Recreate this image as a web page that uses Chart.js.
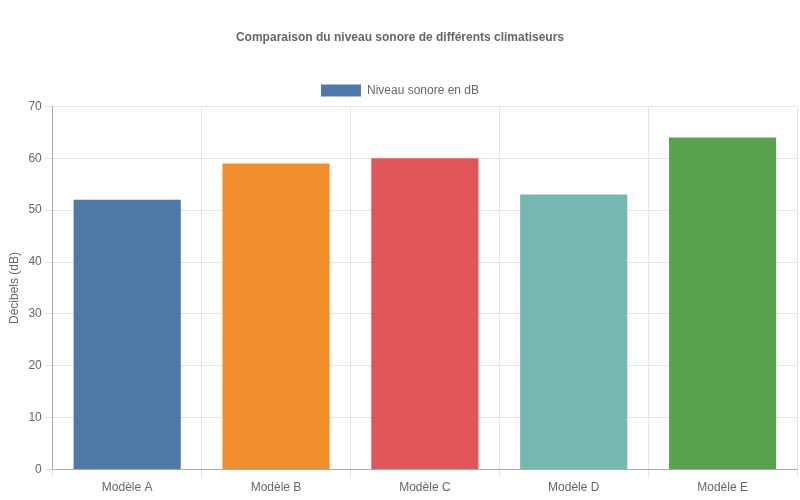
<!DOCTYPE html>
<html lang="fr">
<head>
    <meta charset="UTF-8">
    <title>Niveau sonore des climatiseurs</title>
    <style>
        body { margin: 0; background: #fff; }
        #graphique { width: 800px; height: 500px; }
    </style>
</head>
<body>
    <div id="graphique"><canvas id="chartSonore"></canvas></div>

    <script src="https://cdn.jsdelivr.net/npm/chart.js"></script>
    <script>
        // Données
        const modeles = ['Modèle A', 'Modèle B', 'Modèle C', 'Modèle D', 'Modèle E'];
        const niveauxDb = [52, 59, 60, 53, 64];
        const couleurs = ['#4e79a7', '#f28e2b', '#e15759', '#76b7b2', '#59a14f'];

        Chart.defaults.font.family = '"Liberation Sans", Arial, sans-serif';
        Chart.defaults.font.size = 12;
        Chart.defaults.color = '#666';

        const ctx = document.getElementById('chartSonore').getContext('2d');
        new Chart(ctx, {
            type: 'bar',
            data: {
                labels: modeles,
                datasets: [{
                    label: 'Niveau sonore en dB',
                    data: niveauxDb,
                    backgroundColor: couleurs,
                    borderColor: couleurs,
                    borderWidth: 0
                }]
            },
            options: {
                responsive: true,
                maintainAspectRatio: false,
                animation: false,
                layout: { padding: { top: 20, right: 3, bottom: 2, left: 3 } },
                plugins: {
                    title: {
                        display: true,
                        text: 'Comparaison du niveau sonore de différents climatiseurs',
                        font: { size: 12, weight: 'bold' },
                        padding: { top: 10, bottom: 30 }
                    },
                    legend: {
                        display: true,
                        labels: {
                            boxWidth: 40,
                            boxHeight: 12,
                            generateLabels: chart => [{
                                text: 'Niveau sonore en dB',
                                fillStyle: couleurs[0],
                                strokeStyle: couleurs[0],
                                lineWidth: 0,
                                fontColor: '#666',
                                datasetIndex: 0
                            }]
                        }
                    }
                },
                scales: {
                    x: {
                        grid: { color: '#e5e5e5' },
                        border: { color: '#aaa' }
                    },
                    y: {
                        min: 0,
                        max: 70,
                        ticks: { stepSize: 10 },
                        grid: { color: '#e5e5e5' },
                        border: { color: '#aaa' },
                        title: { display: true, text: 'Décibels (dB)' }
                    }
                }
            }
        });
    </script>
</body>
</html>
